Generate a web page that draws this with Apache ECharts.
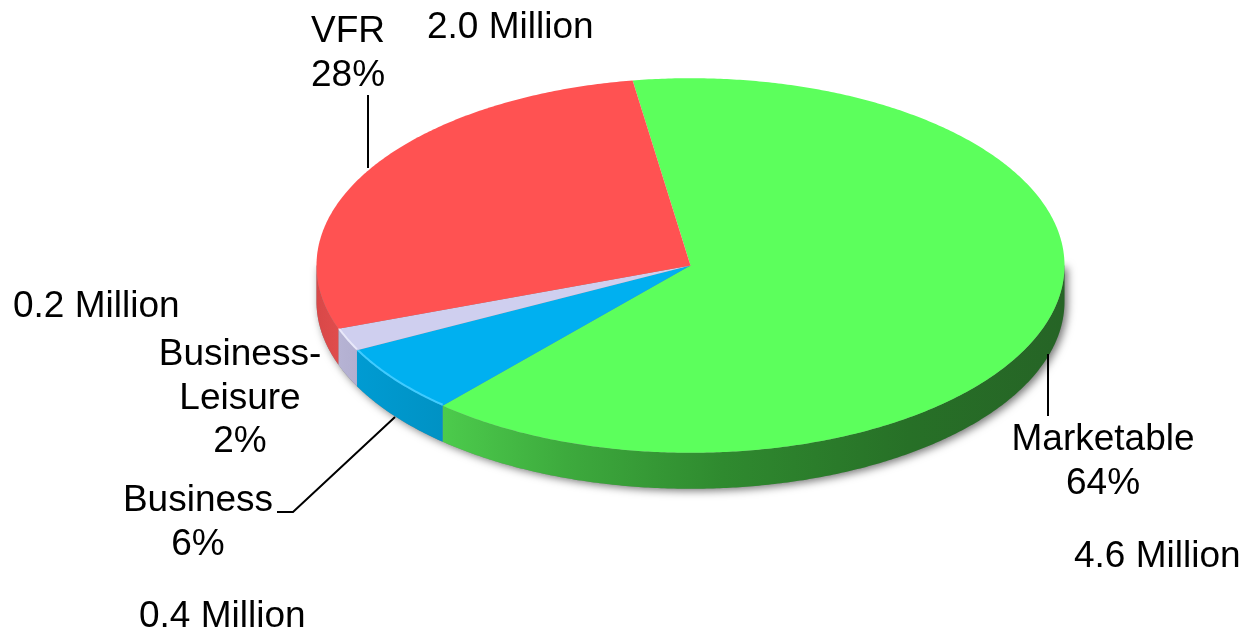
<!DOCTYPE html>
<html>
<head>
<meta charset="utf-8">
<style>html,body{margin:0;padding:0;background:#fff}#c{width:1245px;height:631px}</style>
<script src="https://cdn.jsdelivr.net/npm/echarts@6/dist/echarts.min.js"></script>
</head>
<body>
<div id="c"></div>
<script>
const categories = ['Marketable', 'Business', 'Business-\nLeisure', 'VFR'];
const percents = [64, 6, 2, 28];
const millions = ['4.6 Million', '0.4 Million', '0.2 Million', '2.0 Million'];

const topColors = ['#5CFF5C', '#00B0F0', '#CFCFEF', '#FF5252'];
const rimColors = ['rgba(120,255,120,0.0)', '#3FCBFF', '#E8E8FA', 'rgba(255,120,120,0)'];
const sideStops = [
  [[0, '#4CCB4C'], [0.2, '#3DAA3D'], [0.45, '#2F8A2F'], [0.75, '#277027'], [1, '#266426']],
  [[0, '#009BD2'], [1, '#0092C4']],
  [[0, '#B6B3D4'], [1, '#B2AFD0']],
  [[0, '#D84848'], [1, '#E04C4C']]
];
const pie = { cx: 690.5, cy: 265.5, rx: 374, ry: 187.3, depth: 36, start: 351.1 };
const nameLabelPos = [[1103, 440], [198, 501], [240, 355], [348, 32]];
const millionLabelPos = [[1074, 557], [139, 617], [13, 307], [427, 28]];
const leaders = [
  [[1048, 354], [1048, 416]],
  [[395, 417], [293, 512], [277, 512]],
  [],
  [[368, 95], [368, 168]]
];

const total = percents.reduce((a, b) => a + b, 0);
function pt(deg, dy) {
  const r = deg * Math.PI / 180;
  return [pie.cx + pie.rx * Math.sin(r), pie.cy - pie.ry * Math.cos(r) + (dy || 0)];
}
function arc(a0, a1, dy) {
  const n = Math.max(2, Math.ceil(Math.abs(a1 - a0) * 2)), out = [];
  for (let i = 0; i <= n; i++) out.push(pt(a0 + (a1 - a0) * i / n, dy));
  return out;
}
function sliceRange(i) {
  let s = pie.start;
  for (let k = 0; k < i; k++) s += percents[k] / total * 360;
  return [s, s + percents[i] / total * 360];
}
// Part of an angular range that falls on the front half of the disc (90..270 from the top, clockwise).
function frontPart(a0, a1) {
  const parts = [];
  for (const off of [0, 360, 720]) {
    const lo = Math.max(a0, 90 + off - 360), hi = Math.min(a1, 270 + off - 360);
    if (hi > lo) parts.push([lo, hi]);
  }
  return parts;
}

function renderItem(params, api) {
  const i = params.dataIndex;
  api.value(0);
  const [a0, a1] = sliceRange(i);
  const children = [];
  if (i === 0) {
    const outline = arc(90, 270, pie.depth).concat([pt(270, 0), pt(90, 0)]);
    children.push({
      type: 'polygon', shape: { points: outline },
      style: { fill: '#888', shadowBlur: 9, shadowColor: 'rgba(0,0,0,0.55)', shadowOffsetX: 3, shadowOffsetY: 2 }
    });
  }
  for (const [lo, hi] of frontPart(a0, a1)) {
    children.push({
      type: 'polygon',
      shape: { points: arc(lo, hi, 0).concat(arc(hi, lo, pie.depth)) },
      style: { fill: new echarts.graphic.LinearGradient(0, 0, 1, 0, sideStops[i].map(s => ({ offset: s[0], color: s[1] }))) }
    });
  }
  children.push({
    type: 'polygon',
    shape: { points: [[pie.cx, pie.cy]].concat(arc(a0, a1, 0)) },
    style: { fill: topColors[i] }
  });
  for (const [lo, hi] of frontPart(a0, a1)) {
    children.push({
      type: 'polyline',
      shape: { points: arc(lo, hi, -1) },
      style: { fill: null, stroke: rimColors[i], lineWidth: 2 }
    });
  }
  return { type: 'group', children };
}

const textStyle = { fontFamily: '"Liberation Sans", Arial, sans-serif', fontSize: 37, fill: '#000' };
const graphics = [];
categories.forEach((name, i) => {
  graphics.push({
    type: 'text', x: nameLabelPos[i][0], y: nameLabelPos[i][1] - 21.5,
    style: Object.assign({}, textStyle, { text: name + '\n' + percents[i] + '%', align: 'center', verticalAlign: 'top', lineHeight: 43.5 })
  });
  graphics.push({
    type: 'text', x: millionLabelPos[i][0], y: millionLabelPos[i][1],
    style: Object.assign({}, textStyle, { text: millions[i], align: 'left', verticalAlign: 'middle' })
  });
  if (leaders[i].length) {
    graphics.push({
      type: 'polyline', shape: { points: leaders[i] },
      style: { fill: null, stroke: '#000', lineWidth: 2 }, z: 10
    });
  }
});

const chart = echarts.init(document.getElementById('c'));
chart.setOption({
  animation: false,
  backgroundColor: '#fff',
  series: [{
    type: 'custom',
    coordinateSystem: 'none',
    renderItem,
    data: percents.map((v, i) => ({ name: categories[i], value: [v] }))
  }],
  graphic: graphics
});
</script>
</body>
</html>
